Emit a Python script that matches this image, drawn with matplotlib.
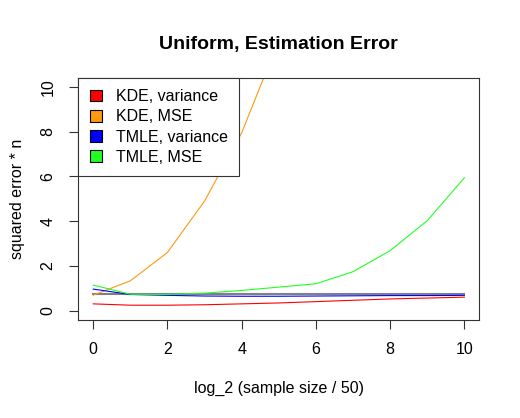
import matplotlib
matplotlib.use("Agg")
import matplotlib.pyplot as plt
from matplotlib.patches import Patch

plt.rcParams['font.family'] = ['Liberation Sans', 'DejaVu Sans']

# log_2(sample size / 50)
x = list(range(11))

# squared error * n
kde_var = [0.30, 0.24, 0.24, 0.26, 0.30, 0.34, 0.40, 0.46, 0.52, 0.56, 0.60]
kde_mse = [0.69, 1.33, 2.60, 4.90, 7.95, 12.1, 18.0, 27.0, 40.0, 60.0, 90.0]
tmle_var = [0.96, 0.72, 0.68, 0.65, 0.64, 0.64, 0.65, 0.66, 0.67, 0.67, 0.68]
tmle_mse = [1.14, 0.73, 0.72, 0.78, 0.90, 1.05, 1.20, 1.74, 2.68, 4.02, 5.94]
reference = 0.72

series_names = ["KDE, variance", "KDE, MSE", "TMLE, variance", "TMLE, MSE"]
series_colors = ["#ff0000", "#ff9910", "#0000ff", "#22ff22"]

fig = plt.figure(figsize=(5.2, 4.18), dpi=100)
ax = fig.add_axes([0.1508, 0.2356, 0.7709, 0.5780])

# reference level
ax.plot([x[0], x[-1]], [reference, reference], color="#808080", lw=1.5)

for ys, c in zip([kde_var, kde_mse, tmle_var, tmle_mse], series_colors):
    ax.plot(x, ys, color=c, lw=0.8)

ax.set_xlim(-0.4, 10.4)
ax.set_ylim(-0.4, 10.4)
ax.set_xticks(range(0, 11, 2))
ax.set_yticks(range(0, 11, 2))
ax.set_yticklabels([str(v) for v in range(0, 11, 2)], rotation=90, va="center")
ax.tick_params(direction="out", length=6.5, width=0.8, labelsize=11.5, pad=10, color="#333333")
for s in ax.spines.values():
    s.set_linewidth(0.8)
    s.set_color("#333333")

ax.set_title("Uniform, Estimation Error", fontsize=14, fontweight="bold", pad=21)
ax.set_xlabel("log_2 (sample size / 50)", fontsize=11.5, labelpad=17)
ax.set_ylabel("squared error * n", fontsize=11.5, labelpad=11)

handles = [Patch(facecolor=c, edgecolor="black", linewidth=0.8) for c in series_colors]
leg = ax.legend(handles, series_names, loc="upper left", bbox_to_anchor=(0, 1),
                borderaxespad=0, fontsize=11.5, fancybox=False, framealpha=1,
                handlelength=0.75, handleheight=0.75, handletextpad=0.9,
                labelspacing=0.33, borderpad=0.7)
leg.get_frame().set_edgecolor("#333333")
leg.get_frame().set_linewidth(0.8)

fig.savefig("out.png", dpi=100)
